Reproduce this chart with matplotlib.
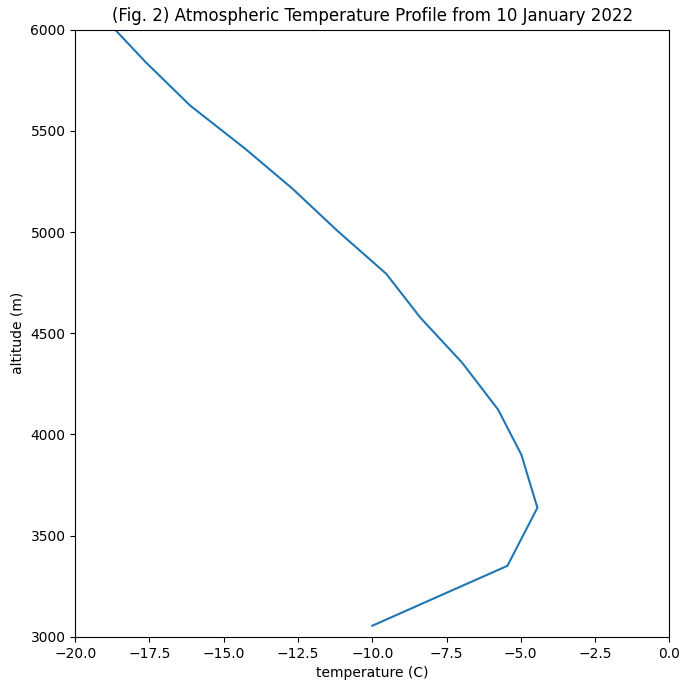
import matplotlib
matplotlib.use("Agg")
import matplotlib.pyplot as plt

temperature = [-10.0, -5.45, -4.44, -4.98, -5.76, -6.97, -8.38, -9.53, -11.18, -12.69, -14.28, -16.13, -17.61, -19.3]
altitude = [3055, 3351, 3638, 3900, 4122, 4354, 4577, 4794, 5007, 5215, 5412, 5625, 5837, 6100]

fig = plt.figure(figsize=(6.9, 6.9), dpi=100)
ax = fig.add_axes([0.109, 0.077, 0.861, 0.88])
ax.plot(temperature, altitude, color="#1f77b4")
ax.set_xlim(-20, 0)
ax.set_ylim(3000, 6000)
ax.set_xlabel("temperature (C)")
ax.set_ylabel("altitude (m)")
ax.set_title("(Fig. 2) Atmospheric Temperature Profile from 10 January 2022")
fig.savefig("out.png")
